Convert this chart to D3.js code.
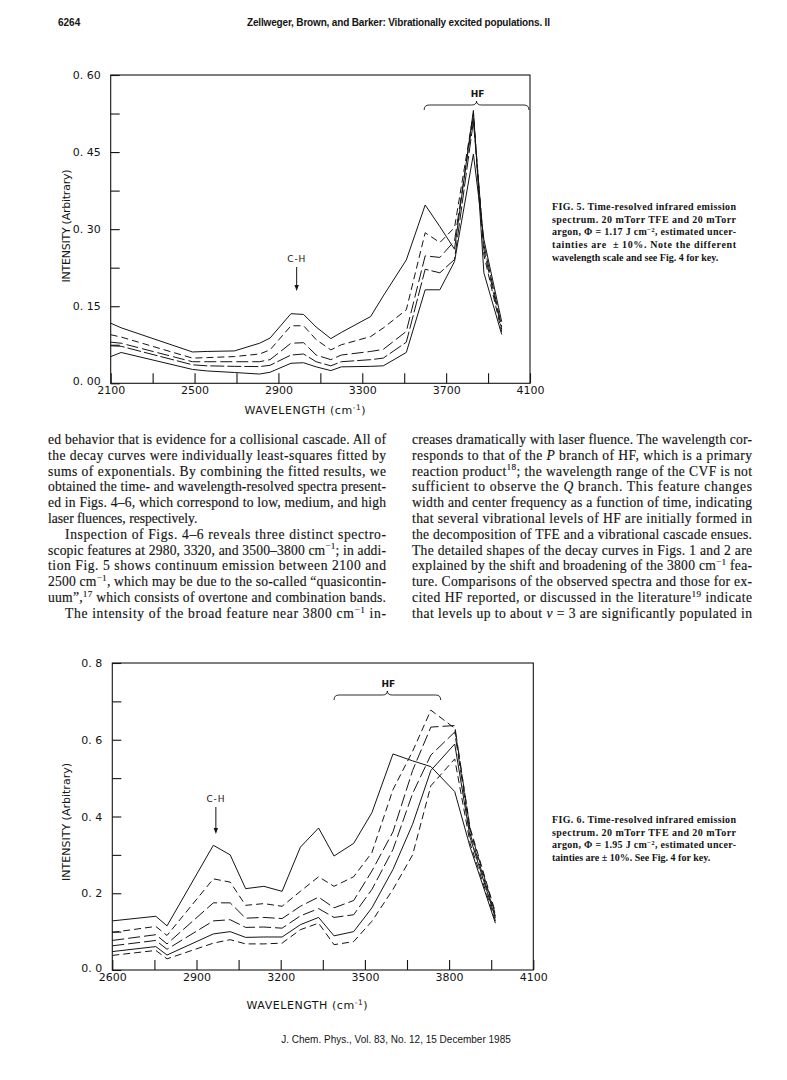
<!DOCTYPE html>
<html><head><meta charset="utf-8">
<script src="https://cdn.jsdelivr.net/npm/d3@7"></script>
<style>body{margin:0;background:#fff}svg{display:block}</style>
</head><body>
<script>
// ---------- FIG. 5 data ----------
const fig5Wavelength = [2100,2150,2490,2560,2690,2810,2860,2960,3020,3080,3150,3200,3340,3400,3510,3600,3670,3740,3830,3880,3965];
const fig5Curve1 = [.117,.108,.061,.062,.063,.078,.088,.1355,.134,.1095,.087,.099,.13,.17,.24,.347,.305,.261,.531,.215,.095];
const fig5Curve2 = [.0945,.09,.049,.050,.052,.057,.065,.112,.112,.085,.065,.075,.091,.1076,.143,.293,.274,.303,.525,.25,.10];
const fig5Curve3 = [.080,.078,.042,.042,.042,.042,.046,.078,.079,.055,.046,.055,.062,.066,.101,.248,.245,.277,.52,.26,.105];
const fig5Curve4 = [.073,.072,.036,.034,.033,.0325,.035,.055,.057,.042,.034,.042,.046,.049,.08,.222,.215,.241,.51,.27,.11];
const fig5Curve5 = [.052,.060,.027,.024,.021,.018,.0215,.039,.040,.032,.0247,.032,.033,.034,.06,.182,.182,.237,.446,.28,.12];
const fig5XTicks = [2100,2500,2900,3300,3700,4100];
const fig5XMinor = [2300,2700,3100,3500,3900];
const fig5YTicks = [0,0.15,0.30,0.45,0.60];
const fig5YTickLabels = ["0. 00","0. 15","0. 30","0. 45","0. 60"];
const fig5YMinor = [0.075,0.225,0.375,0.525];

// ---------- FIG. 6 data ----------
const fig6Wavelength = [2600,2755,2795,2960,3020,3075,3140,3205,3270,3335,3390,3460,3525,3600,3670,3735,3820,3875,3965];
const fig6Curve1 = [.128,.140,.115,.325,.30,.212,.218,.205,.32,.37,.297,.33,.41,.563,.545,.53,.465,.32,.122];
const fig6Curve2 = [.098,.1135,.090,.2375,.229,.1685,.173,.166,.205,.243,.218,.243,.306,.47,.57,.677,.63,.37,.15];
const fig6Curve3 = [.077,.092,.068,.175,.175,.135,.137,.134,.166,.19,.162,.181,.258,.36,.52,.633,.637,.365,.145];
const fig6Curve4 = [.063,.077,.054,.128,.131,.111,.112,.109,.141,.16,.137,.144,.21,.314,.46,.56,.62,.355,.14];
const fig6Curve5 = [.048,.061,.039,.094,.100,.085,.086,.086,.118,.137,.089,.100,.162,.262,.38,.52,.589,.345,.135];
const fig6Curve6 = [.038,.051,.029,.070,.079,.068,.068,.070,.105,.122,.066,.074,.127,.21,.30,.48,.55,.33,.128];
const fig6XTicks = [2600,2900,3200,3500,3800,4100];
const fig6XMinor = [2750,3050,3350,3650,3950];
const fig6YTicks = [0,0.2,0.4,0.6,0.8];
const fig6YTickLabels = ["0. 0","0. 2","0. 4","0. 6","0. 8"];
const fig6YMinor = [0.1,0.3,0.5,0.7];

// ---------- page text ----------
const headerPage = "6264";
const headerTitle = "Zellweger, Brown, and Barker: Vibrationally excited populations. II";
const footerText = "J. Chem. Phys., Vol. 83, No. 12, 15 December 1985";
const fig5Caption = [
  "FIG. 5. Time-resolved infrared emission",
  "spectrum. 20 mTorr TFE and 20 mTorr",
  "argon, Φ = 1.17 J cm^{−2}, estimated uncer-",
  "tainties are  ± 10%. Note the different",
  "wavelength scale and see Fig. 4 for key."];
const fig6Caption = [
  "FIG. 6. Time-resolved infrared emission",
  "spectrum. 20 mTorr TFE and 20 mTorr",
  "argon, Φ = 1.95 J cm^{−2}, estimated uncer-",
  "tainties are ± 10%. See Fig. 4 for key."];
const leftColumn = [
  "ed behavior that is evidence for a collisional cascade. All of",
  "the decay curves were individually least-squares fitted by",
  "sums of exponentials. By combining the fitted results, we",
  "obtained the time- and wavelength-resolved spectra present-",
  "ed in Figs. 4–6, which correspond to low, medium, and high",
  "laser fluences, respectively.",
  "Inspection of Figs. 4–6 reveals three distinct spectro-",
  "scopic features at 2980, 3320, and 3500–3800 cm^{−1}; in addi-",
  "tion Fig. 5 shows continuum emission between 2100 and",
  "2500 cm^{−1}, which may be due to the so-called “quasicontin-",
  "uum”,^{17} which consists of overtone and combination bands.",
  "The intensity of the broad feature near 3800 cm^{−1} in-"];
const leftIndent = [false,false,false,false,false,false,true,false,false,false,false,true];
const leftJustify = [true,true,true,true,true,false,true,true,true,true,true,true];
const rightColumn = [
  "creases dramatically with laser fluence. The wavelength cor-",
  "responds to that of the *P* branch of HF, which is a primary",
  "reaction product^{18}; the wavelength range of the CVF is not",
  "sufficient to observe the *Q* branch. This feature changes",
  "width and center frequency as a function of time, indicating",
  "that several vibrational levels of HF are initially formed in",
  "the decomposition of TFE and a vibrational cascade ensues.",
  "The detailed shapes of the decay curves in Figs. 1 and 2 are",
  "explained by the shift and broadening of the 3800 cm^{−1} fea-",
  "ture. Comparisons of the observed spectra and those for ex-",
  "cited HF reported, or discussed in the literature^{19} indicate",
  "that levels up to about *v* = 3 are significantly populated in"];

// ---------- drawing ----------
const W = 787, H = 1080;
const svg = d3.select("body").append("svg").attr("width",W).attr("height",H);
svg.append("rect").attr("width",W).attr("height",H).attr("fill","#fff");
const INK = "#141414";
const SERIF = "'Liberation Serif','Times New Roman',serif";
const SANS = "'Liberation Sans',Arial,sans-serif";
const PLOT = "'DejaVu Sans',sans-serif";

function richText(g, str, x, y, opts) {
  const t = g.append("text").attr("x",x).attr("y",y)
    .attr("font-family",opts.family).attr("font-size",opts.size)
    .attr("font-weight",opts.weight||"normal").attr("fill",INK)
    .attr("xml:space","preserve");
  if (opts.stroke) t.attr("stroke",INK).attr("stroke-width",opts.stroke);
  const re = /\^\{([^}]*)\}|\*([^*]+)\*/g;
  let last = 0, m, shift = 0;
  const sup = opts.size*0.38;
  function plain(s){ if(!s) return; const ts=t.append("tspan").text(s); if(shift){ts.attr("dy",shift);shift=0;} }
  while ((m = re.exec(str)) !== null) {
    plain(str.slice(last, m.index));
    if (m[1] !== undefined) {
      t.append("tspan").attr("dy",-sup+shift).attr("font-size",opts.size*0.68).text(m[1]);
      shift = sup;
    } else {
      const ts = t.append("tspan").attr("font-style","italic").text(m[2]);
      if(shift){ts.attr("dy",shift);shift=0;}
    }
    last = re.lastIndex;
  }
  plain(str.slice(last));
  if (opts.width) t.attr("textLength",opts.width).attr("lengthAdjust","spacing");
  if (opts.anchor) t.attr("text-anchor",opts.anchor);
  return t;
}

// header & footer
richText(svg, headerPage, 58, 26, {family:SANS,size:10,weight:"bold"});
richText(svg, headerTitle, 247, 26, {family:SANS,size:10,weight:"bold",width:303});
richText(svg, footerText, 396, 1043, {family:SANS,size:10,anchor:"middle"});

// body text
leftColumn.forEach((s,i)=>{
  const x = leftIndent[i] ? 65 : 48;
  richText(svg, s, x, 444+15.8*i, {family:SERIF,size:13.6,stroke:0.15,width:leftJustify[i]?(386-x):null});
});
rightColumn.forEach((s,i)=>{
  richText(svg, s, 412, 444+15.8*i, {family:SERIF,size:13.6,stroke:0.15,width:340});
});

// captions
fig5Caption.forEach((s,i)=>{
  richText(svg, s, 552, 210+12.7*i, {family:SERIF,size:10,weight:"bold",width:i<fig5Caption.length-1?184:null});
});
fig6Caption.forEach((s,i)=>{
  richText(svg, s, 552, 823+12.7*i, {family:SERIF,size:10,weight:"bold",width:i<fig6Caption.length-1?184:null});
});

function brace(g, x1, x2, yb) {
  const xm = (x1+x2)/2, r = 5;
  const p = `M${x1},${yb+5} Q${x1},${yb} ${x1+r},${yb} L${xm-r},${yb} Q${xm},${yb} ${xm},${yb-4} Q${xm},${yb} ${xm+r},${yb} L${x2-r},${yb} Q${x2},${yb} ${x2},${yb+5}`;
  g.append("path").attr("d",p).attr("fill","none").attr("stroke",INK).attr("stroke-width",0.9);
}

function chart(cfg) {
  const g = svg.append("g");
  const x = d3.scaleLinear().domain(cfg.xDomain).range(cfg.xRange);
  const y = d3.scaleLinear().domain(cfg.yDomain).range(cfg.yRange);
  // frame
  g.append("rect").attr("x",cfg.xRange[0]).attr("y",cfg.yRange[1])
    .attr("width",cfg.xRange[1]-cfg.xRange[0]).attr("height",cfg.yRange[0]-cfg.yRange[1])
    .attr("fill","none").attr("stroke",INK).attr("stroke-width",1.1);
  const styleAxis = a => { a.select(".domain").remove(); a.selectAll("line").attr("stroke",INK).attr("stroke-width",1.1);
    a.selectAll("text").attr("font-family",PLOT).attr("font-size",11).attr("fill",INK); a.attr("font-family",null).attr("font-size",null); };
  // y axis
  const ya = g.append("g").attr("transform",`translate(${cfg.xRange[0]},0)`)
    .call(d3.axisLeft(y).tickValues(cfg.yTicks).tickSize(-9).tickPadding(10).tickFormat((d,i)=>cfg.yLabels[i]));
  styleAxis(ya);
  ya.selectAll(".tick text").filter(d=>d===0).attr("dy","0.1em");
  const yam = g.append("g").attr("transform",`translate(${cfg.xRange[0]},0)`)
    .call(d3.axisLeft(y).tickValues(cfg.yMinor).tickSize(-9).tickFormat(""));
  styleAxis(yam);
  // x axis
  const xa = g.append("g").attr("transform",`translate(0,${cfg.yRange[0]})`)
    .call(d3.axisBottom(x).tickValues(cfg.xTicks).tickSize(-10).tickPadding(3).tickFormat(d3.format("d")));
  styleAxis(xa);
  const xam = g.append("g").attr("transform",`translate(0,${cfg.yRange[0]})`)
    .call(d3.axisBottom(x).tickValues(cfg.xMinor).tickSize(-10).tickFormat(""));
  styleAxis(xam);
  // axis titles
  richText(g, "WAVELENGTH (cm^{-1})", cfg.xTitle[0], cfg.xTitle[1], {family:PLOT,size:11,anchor:"middle",width:121});
  const yt = richText(g, "INTENSITY (Arbitrary)", 0, 0, {family:PLOT,size:11,anchor:"middle",width:cfg.yTitleLen});
  yt.attr("transform",`translate(${cfg.yTitle[0]},${cfg.yTitle[1]}) rotate(-90)`);
  // curves
  const line = d3.line().x((d,i)=>x(cfg.wl[i])).y(d=>y(d));
  cfg.series.forEach((s,k)=>{
    g.append("path").datum(s).attr("d",line).attr("fill","none").attr("stroke",INK)
      .attr("stroke-width",1).attr("stroke-linejoin","round")
      .attr("stroke-dasharray",cfg.dashes[k]);
  });
  // C-H annotation
  const chx = x(cfg.ch[0]);
  g.append("text").attr("x",chx).attr("y",cfg.ch[1]).attr("text-anchor","middle")
    .attr("font-family",PLOT).attr("font-size",9).attr("letter-spacing",0.8).attr("fill",INK).text("C-H");
  g.append("line").attr("x1",chx).attr("x2",chx).attr("y1",cfg.ch[1]+5).attr("y2",cfg.ch[2]-4)
    .attr("stroke",INK).attr("stroke-width",1);
  g.append("path").attr("d",`M${chx-2.2},${cfg.ch[2]-6} L${chx+2.2},${cfg.ch[2]-6} L${chx},${cfg.ch[2]} Z`).attr("fill",INK);
  // HF brace
  brace(g, x(cfg.hf[0]), x(cfg.hf[1]), cfg.hf[2]);
  g.append("text").attr("x",(x(cfg.hf[0])+x(cfg.hf[1]))/2+1).attr("y",cfg.hf[2]-8).attr("text-anchor","middle")
    .attr("font-family",PLOT).attr("font-size",9).attr("font-weight","bold").attr("fill",INK).text("HF");
}

chart({
  xDomain:[2100,4100], xRange:[110.7,530], yDomain:[0,0.6], yRange:[383.3,75],
  xTicks:fig5XTicks, xMinor:fig5XMinor, yTicks:fig5YTicks, yLabels:fig5YTickLabels, yMinor:fig5YMinor,
  wl:fig5Wavelength, series:[fig5Curve1,fig5Curve2,fig5Curve3,fig5Curve4,fig5Curve5],
  dashes:[null,"7,4","12,4","14,3",null],
  xTitle:[305,414], yTitle:[70,226], yTitleLen:113,
  ch:[2987,262,291], hf:[3595,4095,105]
});
chart({
  xDomain:[2600,4100], xRange:[112.3,533.3], yDomain:[0,0.8], yRange:[970,663],
  xTicks:fig6XTicks, xMinor:fig6XMinor, yTicks:fig6YTicks, yLabels:fig6YTickLabels, yMinor:fig6YMinor,
  wl:fig6Wavelength, series:[fig6Curve1,fig6Curve2,fig6Curve3,fig6Curve4,fig6Curve5,fig6Curve6],
  dashes:[null,"7,4","12,4","12,4",null,"7,4"],
  xTitle:[307,1009], yTitle:[70,822], yTitleLen:118,
  ch:[2969,802,834], hf:[3390,3770,695]
});
</script>
</body></html>
